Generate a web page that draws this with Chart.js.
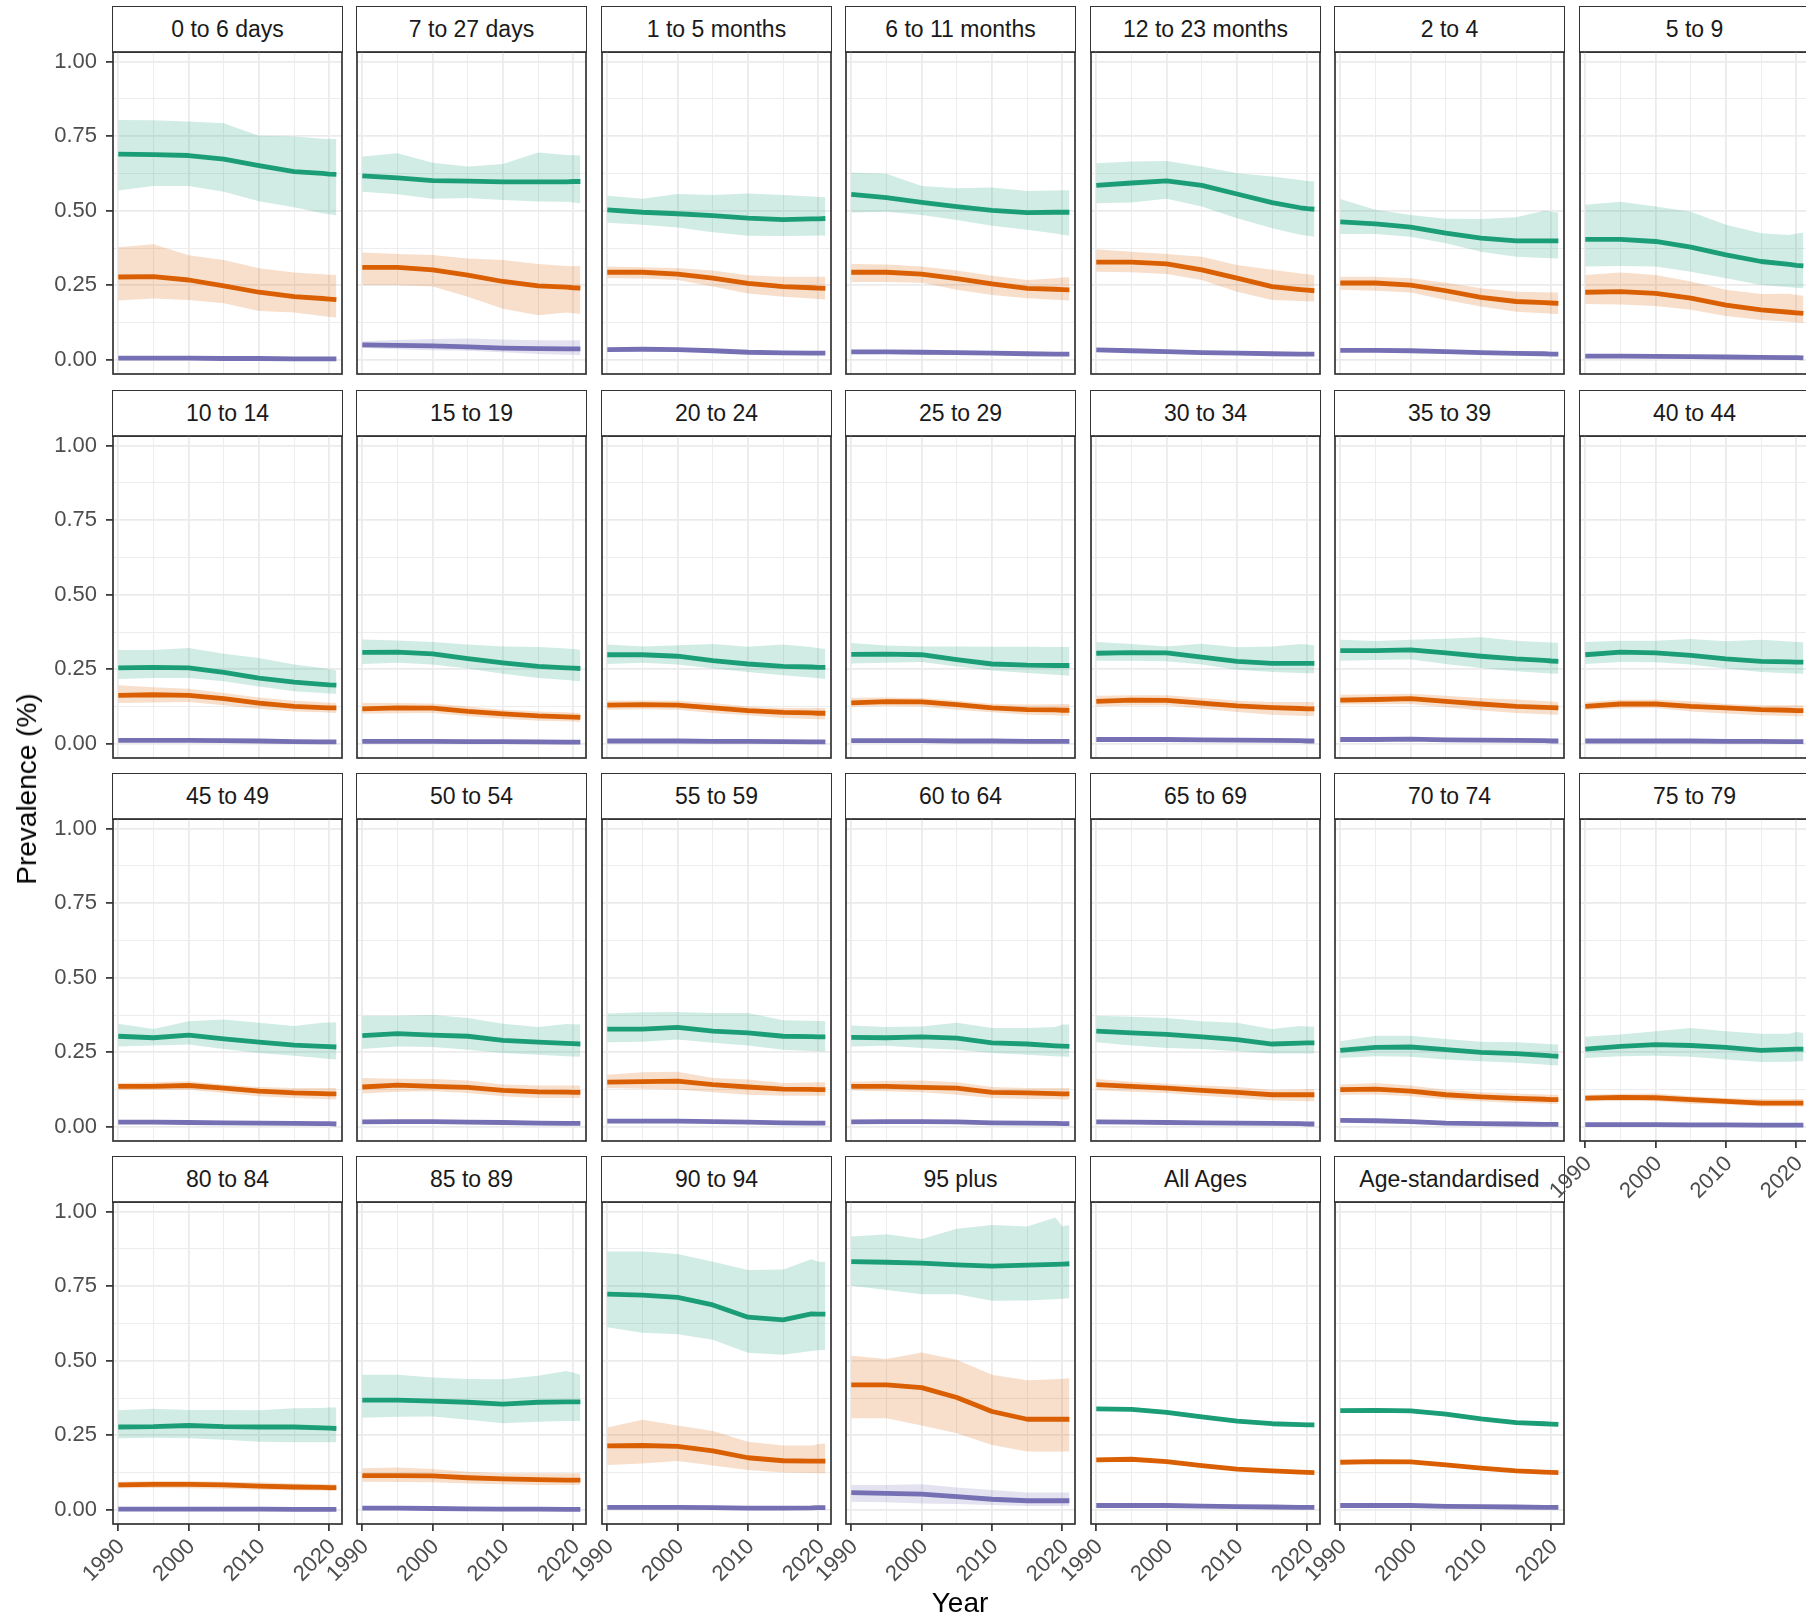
<!DOCTYPE html>
<html><head><meta charset="utf-8">
<script src="https://cdn.jsdelivr.net/npm/chart.js@4.4.0/dist/chart.umd.min.js"></script>
<style>
html,body{margin:0;padding:0;background:#fff;width:1806px;height:1619px;overflow:hidden;}
#wrap{position:relative;width:1806px;height:1619px;overflow:hidden;font-family:"Liberation Sans",Arial,Helvetica,sans-serif;}
.strip{position:absolute;z-index:1;box-sizing:border-box;border:1.7px solid #333;background:#fff;color:#1a1a1a;font-size:23px;display:flex;align-items:center;justify-content:center;white-space:nowrap;}
.cv{position:absolute;z-index:2;}
.title{position:absolute;z-index:3;color:#000;font-size:28px;white-space:nowrap;transform:translate(-50%,-50%);}
</style></head><body><div id="wrap"></div>
<script>
const panels = ["0 to 6 days","7 to 27 days","1 to 5 months","6 to 11 months","12 to 23 months","2 to 4","5 to 9",
"10 to 14","15 to 19","20 to 24","25 to 29","30 to 34","35 to 39","40 to 44",
"45 to 49","50 to 54","55 to 59","60 to 64","65 to 69","70 to 74","75 to 79",
"80 to 84","85 to 89","90 to 94","95 plus","All Ages","Age-standardised"];
const years = [1990,1995,2000,2005,2010,2015,2019,2020,2021];
const xTickLabels = ["1990","2000","2010","2020"];
const yTickLabels = ["0.00","0.25","0.50","0.75","1.00"];

const greenMid = [
[0.690,0.688,0.685,0.673,0.651,0.631,0.625,0.623,0.622],
[0.617,0.610,0.601,0.599,0.597,0.597,0.597,0.598,0.598],
[0.503,0.495,0.490,0.484,0.475,0.470,0.473,0.473,0.474],
[0.555,0.544,0.528,0.514,0.501,0.494,0.495,0.495,0.495],
[0.585,0.593,0.600,0.585,0.556,0.527,0.510,0.507,0.505],
[0.463,0.456,0.445,0.425,0.408,0.399,0.399,0.399,0.399],
[0.404,0.404,0.397,0.378,0.352,0.330,0.320,0.317,0.315],
[0.255,0.257,0.255,0.240,0.221,0.207,0.200,0.198,0.197],
[0.307,0.308,0.302,0.286,0.272,0.260,0.255,0.254,0.253],
[0.299,0.299,0.294,0.279,0.268,0.260,0.258,0.257,0.257],
[0.300,0.301,0.299,0.283,0.268,0.264,0.263,0.263,0.263],
[0.304,0.306,0.305,0.291,0.277,0.270,0.270,0.270,0.270],
[0.313,0.313,0.315,0.305,0.294,0.285,0.280,0.278,0.277],
[0.299,0.308,0.305,0.297,0.285,0.277,0.275,0.274,0.274],
[0.304,0.299,0.308,0.295,0.284,0.274,0.270,0.269,0.268],
[0.306,0.313,0.308,0.304,0.290,0.284,0.280,0.279,0.278],
[0.328,0.328,0.334,0.321,0.315,0.304,0.303,0.302,0.302],
[0.300,0.299,0.302,0.298,0.282,0.278,0.272,0.271,0.270],
[0.321,0.315,0.310,0.302,0.293,0.278,0.281,0.282,0.282],
[0.257,0.267,0.268,0.259,0.250,0.246,0.240,0.238,0.237],
[0.261,0.270,0.276,0.273,0.267,0.257,0.260,0.261,0.261],
[0.278,0.279,0.283,0.279,0.278,0.278,0.275,0.274,0.273],
[0.368,0.368,0.365,0.361,0.355,0.361,0.362,0.362,0.362],
[0.723,0.720,0.712,0.687,0.646,0.637,0.657,0.656,0.656],
[0.832,0.830,0.827,0.821,0.817,0.820,0.823,0.824,0.825],
[0.339,0.337,0.327,0.312,0.298,0.289,0.286,0.285,0.285],
[0.333,0.334,0.332,0.321,0.305,0.293,0.289,0.288,0.287]];

const greenLo = [
[0.568,0.583,0.583,0.564,0.532,0.512,0.492,0.488,0.484],
[0.564,0.555,0.540,0.543,0.536,0.531,0.530,0.528,0.525],
[0.460,0.453,0.444,0.428,0.416,0.415,0.416,0.417,0.417],
[0.494,0.497,0.486,0.469,0.450,0.436,0.424,0.420,0.416],
[0.525,0.528,0.540,0.514,0.475,0.441,0.420,0.416,0.413],
[0.422,0.422,0.413,0.391,0.363,0.346,0.342,0.341,0.340],
[0.313,0.315,0.313,0.296,0.274,0.251,0.244,0.242,0.240],
[0.218,0.221,0.221,0.210,0.193,0.177,0.171,0.169,0.168],
[0.268,0.272,0.266,0.253,0.235,0.221,0.214,0.212,0.210],
[0.268,0.272,0.266,0.253,0.241,0.230,0.223,0.220,0.218],
[0.270,0.272,0.275,0.260,0.246,0.238,0.232,0.230,0.229],
[0.279,0.279,0.277,0.266,0.249,0.241,0.238,0.237,0.237],
[0.279,0.281,0.283,0.268,0.255,0.244,0.238,0.236,0.235],
[0.268,0.275,0.274,0.266,0.253,0.241,0.237,0.236,0.235],
[0.270,0.273,0.276,0.261,0.248,0.239,0.230,0.228,0.226],
[0.261,0.270,0.268,0.259,0.248,0.242,0.237,0.236,0.235],
[0.284,0.286,0.293,0.282,0.273,0.259,0.255,0.254,0.253],
[0.270,0.272,0.265,0.259,0.248,0.242,0.237,0.236,0.235],
[0.284,0.273,0.265,0.261,0.254,0.246,0.246,0.246,0.246],
[0.231,0.237,0.235,0.226,0.220,0.215,0.209,0.207,0.206],
[0.231,0.237,0.239,0.235,0.226,0.218,0.219,0.220,0.220],
[0.240,0.242,0.240,0.235,0.229,0.227,0.227,0.227,0.227],
[0.309,0.312,0.313,0.302,0.291,0.296,0.298,0.298,0.298],
[0.612,0.594,0.589,0.570,0.527,0.520,0.533,0.535,0.536],
[0.751,0.737,0.723,0.723,0.701,0.702,0.706,0.708,0.709],
[0.333,0.331,0.321,0.306,0.292,0.283,0.280,0.279,0.279],
[0.327,0.328,0.326,0.315,0.299,0.287,0.283,0.282,0.281]];

const greenHi = [
[0.804,0.803,0.799,0.793,0.751,0.749,0.741,0.740,0.740],
[0.682,0.693,0.661,0.648,0.657,0.695,0.687,0.686,0.685],
[0.550,0.540,0.556,0.553,0.558,0.553,0.548,0.546,0.545],
[0.628,0.624,0.583,0.575,0.578,0.566,0.568,0.569,0.569],
[0.659,0.665,0.667,0.648,0.626,0.615,0.603,0.600,0.598],
[0.539,0.503,0.486,0.473,0.472,0.478,0.500,0.497,0.494],
[0.520,0.530,0.514,0.497,0.453,0.425,0.419,0.423,0.427],
[0.315,0.315,0.322,0.302,0.288,0.266,0.255,0.250,0.246],
[0.350,0.347,0.342,0.333,0.327,0.325,0.320,0.318,0.315],
[0.333,0.327,0.331,0.335,0.326,0.333,0.325,0.321,0.318],
[0.338,0.330,0.327,0.327,0.326,0.326,0.325,0.325,0.325],
[0.342,0.335,0.327,0.336,0.324,0.327,0.335,0.333,0.331],
[0.349,0.345,0.349,0.353,0.358,0.346,0.341,0.340,0.339],
[0.342,0.346,0.346,0.352,0.344,0.349,0.343,0.342,0.341],
[0.346,0.328,0.354,0.360,0.349,0.338,0.349,0.350,0.351],
[0.373,0.373,0.375,0.365,0.346,0.335,0.345,0.344,0.343],
[0.380,0.384,0.385,0.382,0.382,0.358,0.356,0.355,0.354],
[0.340,0.335,0.337,0.349,0.332,0.332,0.335,0.343,0.343],
[0.373,0.369,0.365,0.354,0.349,0.328,0.338,0.337,0.337],
[0.287,0.306,0.306,0.295,0.286,0.284,0.279,0.277,0.276],
[0.302,0.310,0.321,0.332,0.321,0.312,0.312,0.318,0.315],
[0.334,0.339,0.335,0.335,0.334,0.341,0.342,0.343,0.343],
[0.453,0.453,0.444,0.439,0.438,0.450,0.466,0.460,0.453],
[0.866,0.866,0.858,0.832,0.804,0.806,0.840,0.832,0.832],
[0.916,0.924,0.908,0.942,0.955,0.950,0.980,0.950,0.955],
[0.346,0.344,0.334,0.319,0.305,0.296,0.293,0.292,0.292],
[0.340,0.341,0.339,0.328,0.312,0.300,0.296,0.295,0.294]];

const orangeMid = [
[0.278,0.279,0.268,0.248,0.227,0.212,0.206,0.204,0.202],
[0.310,0.310,0.302,0.284,0.263,0.248,0.244,0.242,0.241],
[0.294,0.294,0.288,0.274,0.257,0.246,0.242,0.241,0.240],
[0.294,0.294,0.288,0.273,0.255,0.240,0.237,0.236,0.235],
[0.328,0.328,0.322,0.302,0.274,0.246,0.236,0.234,0.232],
[0.258,0.258,0.251,0.232,0.210,0.196,0.192,0.191,0.190],
[0.227,0.229,0.223,0.207,0.184,0.168,0.160,0.158,0.156],
[0.163,0.165,0.163,0.152,0.137,0.126,0.122,0.121,0.121],
[0.118,0.121,0.120,0.109,0.101,0.094,0.091,0.090,0.089],
[0.130,0.132,0.130,0.121,0.112,0.106,0.104,0.103,0.103],
[0.138,0.142,0.141,0.132,0.121,0.115,0.114,0.113,0.113],
[0.143,0.147,0.146,0.137,0.128,0.122,0.119,0.118,0.118],
[0.147,0.149,0.152,0.143,0.134,0.126,0.123,0.122,0.121],
[0.126,0.134,0.134,0.126,0.121,0.115,0.113,0.112,0.112],
[0.136,0.136,0.139,0.130,0.120,0.114,0.112,0.111,0.111],
[0.134,0.140,0.136,0.133,0.123,0.118,0.117,0.116,0.116],
[0.150,0.152,0.154,0.142,0.134,0.127,0.126,0.125,0.125],
[0.136,0.136,0.133,0.130,0.116,0.114,0.112,0.111,0.111],
[0.142,0.136,0.130,0.123,0.116,0.108,0.108,0.108,0.108],
[0.125,0.127,0.120,0.108,0.101,0.096,0.093,0.092,0.092],
[0.097,0.099,0.098,0.092,0.086,0.080,0.080,0.080,0.080],
[0.084,0.086,0.086,0.084,0.080,0.077,0.076,0.075,0.075],
[0.115,0.115,0.114,0.108,0.104,0.102,0.100,0.100,0.100],
[0.215,0.216,0.213,0.198,0.175,0.165,0.164,0.164,0.164],
[0.419,0.419,0.410,0.377,0.330,0.304,0.304,0.304,0.304],
[0.168,0.170,0.162,0.149,0.137,0.131,0.127,0.126,0.125],
[0.160,0.162,0.161,0.151,0.140,0.131,0.127,0.126,0.125]];

const orangeLo = [
[0.199,0.206,0.201,0.190,0.164,0.159,0.147,0.144,0.142],
[0.250,0.250,0.246,0.212,0.172,0.150,0.159,0.157,0.154],
[0.274,0.273,0.268,0.246,0.223,0.212,0.206,0.204,0.203],
[0.261,0.261,0.259,0.235,0.218,0.207,0.202,0.200,0.199],
[0.296,0.294,0.288,0.268,0.229,0.201,0.198,0.197,0.196],
[0.235,0.232,0.226,0.201,0.179,0.162,0.157,0.155,0.154],
[0.188,0.186,0.181,0.168,0.147,0.134,0.128,0.126,0.125],
[0.137,0.139,0.141,0.130,0.118,0.109,0.106,0.105,0.104],
[0.101,0.103,0.104,0.093,0.085,0.078,0.076,0.075,0.074],
[0.115,0.116,0.115,0.104,0.096,0.087,0.084,0.083,0.082],
[0.125,0.127,0.126,0.115,0.106,0.098,0.096,0.095,0.095],
[0.126,0.129,0.130,0.118,0.107,0.098,0.095,0.094,0.093],
[0.132,0.133,0.134,0.123,0.112,0.104,0.100,0.099,0.098],
[0.115,0.119,0.121,0.109,0.102,0.096,0.094,0.093,0.093],
[0.123,0.124,0.125,0.114,0.103,0.097,0.094,0.093,0.092],
[0.112,0.118,0.120,0.114,0.103,0.097,0.097,0.097,0.097],
[0.131,0.128,0.125,0.116,0.108,0.105,0.105,0.105,0.105],
[0.122,0.120,0.116,0.108,0.097,0.094,0.093,0.092,0.092],
[0.123,0.118,0.114,0.105,0.097,0.089,0.087,0.086,0.086],
[0.108,0.109,0.103,0.092,0.086,0.080,0.079,0.078,0.078],
[0.086,0.087,0.086,0.078,0.075,0.069,0.069,0.069,0.069],
[0.073,0.074,0.073,0.071,0.068,0.066,0.065,0.064,0.064],
[0.095,0.094,0.093,0.089,0.086,0.084,0.084,0.084,0.084],
[0.151,0.156,0.164,0.149,0.134,0.126,0.124,0.123,0.123],
[0.307,0.307,0.283,0.257,0.218,0.196,0.195,0.196,0.196],
[0.164,0.166,0.158,0.145,0.133,0.127,0.123,0.122,0.121],
[0.156,0.158,0.157,0.147,0.136,0.127,0.123,0.122,0.121]];

const orangeHi = [
[0.378,0.388,0.351,0.335,0.307,0.293,0.287,0.286,0.285],
[0.360,0.355,0.352,0.340,0.335,0.322,0.315,0.314,0.315],
[0.313,0.311,0.308,0.300,0.284,0.279,0.279,0.279,0.279],
[0.322,0.320,0.313,0.300,0.282,0.268,0.274,0.276,0.277],
[0.371,0.363,0.355,0.346,0.318,0.302,0.290,0.287,0.284],
[0.279,0.279,0.274,0.259,0.240,0.229,0.227,0.226,0.226],
[0.285,0.293,0.285,0.263,0.235,0.221,0.222,0.218,0.215],
[0.197,0.190,0.185,0.171,0.156,0.145,0.140,0.138,0.137],
[0.137,0.137,0.136,0.126,0.115,0.109,0.106,0.105,0.104],
[0.145,0.146,0.145,0.137,0.126,0.121,0.121,0.121,0.121],
[0.155,0.156,0.154,0.145,0.135,0.132,0.133,0.134,0.134],
[0.162,0.163,0.163,0.154,0.145,0.141,0.141,0.141,0.141],
[0.165,0.167,0.168,0.162,0.154,0.149,0.144,0.142,0.141],
[0.141,0.148,0.149,0.143,0.134,0.130,0.130,0.130,0.130],
[0.147,0.150,0.153,0.142,0.134,0.131,0.131,0.131,0.131],
[0.164,0.162,0.161,0.156,0.142,0.139,0.139,0.139,0.139],
[0.175,0.183,0.185,0.164,0.159,0.147,0.149,0.150,0.150],
[0.152,0.154,0.156,0.150,0.134,0.131,0.131,0.131,0.131],
[0.161,0.152,0.145,0.139,0.134,0.125,0.126,0.127,0.127],
[0.142,0.147,0.139,0.125,0.116,0.112,0.109,0.108,0.108],
[0.108,0.111,0.112,0.103,0.097,0.094,0.094,0.094,0.094],
[0.095,0.097,0.097,0.095,0.093,0.089,0.087,0.086,0.086],
[0.140,0.142,0.137,0.128,0.123,0.123,0.123,0.123,0.123],
[0.276,0.302,0.283,0.265,0.229,0.216,0.216,0.220,0.223],
[0.517,0.506,0.528,0.503,0.453,0.435,0.438,0.440,0.441],
[0.172,0.174,0.166,0.153,0.141,0.135,0.131,0.130,0.129],
[0.164,0.166,0.165,0.155,0.144,0.135,0.131,0.130,0.129]];

const purpleMid = [
[0.006,0.006,0.006,0.005,0.005,0.004,0.004,0.004,0.004],
[0.051,0.049,0.047,0.044,0.040,0.038,0.037,0.037,0.037],
[0.035,0.036,0.035,0.031,0.026,0.024,0.023,0.023,0.023],
[0.027,0.027,0.026,0.025,0.023,0.021,0.020,0.020,0.020],
[0.034,0.031,0.028,0.025,0.023,0.021,0.020,0.020,0.020],
[0.032,0.032,0.031,0.028,0.025,0.022,0.021,0.020,0.020],
[0.013,0.013,0.012,0.011,0.010,0.009,0.008,0.008,0.007],
[0.012,0.012,0.012,0.011,0.010,0.008,0.007,0.007,0.007],
[0.009,0.009,0.009,0.008,0.008,0.007,0.006,0.006,0.006],
[0.010,0.010,0.010,0.009,0.009,0.008,0.007,0.007,0.007],
[0.011,0.011,0.011,0.010,0.010,0.009,0.009,0.009,0.009],
[0.015,0.015,0.015,0.014,0.013,0.012,0.011,0.010,0.010],
[0.015,0.015,0.016,0.014,0.013,0.012,0.011,0.010,0.010],
[0.010,0.010,0.010,0.010,0.009,0.009,0.008,0.008,0.008],
[0.016,0.016,0.015,0.014,0.013,0.012,0.011,0.011,0.010],
[0.017,0.018,0.018,0.016,0.015,0.013,0.012,0.012,0.012],
[0.020,0.020,0.020,0.018,0.016,0.014,0.013,0.013,0.013],
[0.017,0.018,0.018,0.017,0.014,0.013,0.012,0.011,0.011],
[0.017,0.016,0.015,0.014,0.013,0.012,0.011,0.010,0.010],
[0.022,0.021,0.018,0.013,0.011,0.010,0.009,0.009,0.009],
[0.008,0.008,0.008,0.007,0.007,0.006,0.006,0.006,0.006],
[0.003,0.003,0.003,0.003,0.003,0.002,0.002,0.002,0.002],
[0.006,0.006,0.005,0.004,0.003,0.003,0.002,0.002,0.002],
[0.009,0.009,0.009,0.008,0.006,0.006,0.007,0.008,0.008],
[0.058,0.056,0.053,0.045,0.036,0.031,0.031,0.031,0.031],
[0.015,0.015,0.015,0.013,0.011,0.010,0.009,0.009,0.009],
[0.015,0.015,0.015,0.012,0.011,0.010,0.009,0.009,0.009]];

const purpleLo = [
[0.003,0.003,0.003,0.002,0.002,0.002,0.002,0.002,0.002],
[0.040,0.036,0.033,0.031,0.026,0.020,0.018,0.018,0.017],
[0.031,0.032,0.031,0.027,0.022,0.020,0.019,0.019,0.019],
[0.024,0.024,0.023,0.022,0.020,0.018,0.017,0.017,0.017],
[0.031,0.028,0.025,0.022,0.020,0.018,0.017,0.017,0.017],
[0.029,0.029,0.028,0.025,0.022,0.019,0.018,0.017,0.017],
[0.010,0.010,0.009,0.008,0.007,0.006,0.005,0.005,0.004],
[0.009,0.009,0.009,0.008,0.007,0.005,0.004,0.004,0.004],
[0.006,0.006,0.006,0.005,0.005,0.004,0.003,0.003,0.003],
[0.007,0.007,0.007,0.006,0.006,0.005,0.004,0.004,0.004],
[0.008,0.008,0.008,0.007,0.007,0.006,0.006,0.006,0.006],
[0.012,0.012,0.012,0.011,0.010,0.009,0.008,0.007,0.007],
[0.012,0.012,0.013,0.011,0.010,0.009,0.008,0.007,0.007],
[0.007,0.007,0.007,0.007,0.006,0.006,0.005,0.005,0.005],
[0.012,0.012,0.011,0.010,0.009,0.008,0.007,0.007,0.006],
[0.013,0.014,0.014,0.012,0.011,0.009,0.008,0.008,0.008],
[0.016,0.016,0.016,0.014,0.012,0.010,0.009,0.009,0.009],
[0.012,0.013,0.013,0.012,0.010,0.009,0.008,0.007,0.007],
[0.014,0.013,0.012,0.011,0.010,0.009,0.008,0.007,0.007],
[0.018,0.017,0.014,0.010,0.008,0.007,0.006,0.006,0.006],
[0.005,0.005,0.005,0.004,0.004,0.003,0.003,0.003,0.003],
[0.001,0.001,0.001,0.001,0.001,0.001,0.001,0.001,0.001],
[0.003,0.003,0.002,0.002,0.001,0.001,0.001,0.001,0.001],
[0.005,0.005,0.005,0.004,0.003,0.003,0.004,0.004,0.004],
[0.028,0.026,0.022,0.020,0.017,0.013,0.013,0.013,0.013],
[0.013,0.013,0.013,0.011,0.009,0.008,0.007,0.007,0.007],
[0.013,0.013,0.013,0.010,0.009,0.008,0.007,0.007,0.007]];

const purpleHi = [
[0.009,0.009,0.009,0.008,0.008,0.007,0.007,0.007,0.007],
[0.063,0.067,0.070,0.072,0.069,0.066,0.066,0.066,0.066],
[0.039,0.040,0.039,0.035,0.030,0.028,0.027,0.027,0.027],
[0.030,0.030,0.029,0.028,0.026,0.024,0.023,0.023,0.023],
[0.037,0.034,0.031,0.028,0.026,0.024,0.023,0.023,0.023],
[0.035,0.035,0.034,0.031,0.028,0.025,0.024,0.023,0.023],
[0.016,0.016,0.015,0.014,0.013,0.012,0.011,0.011,0.010],
[0.015,0.015,0.015,0.014,0.013,0.011,0.010,0.010,0.010],
[0.012,0.012,0.012,0.011,0.011,0.010,0.009,0.009,0.009],
[0.013,0.013,0.013,0.012,0.012,0.011,0.010,0.010,0.010],
[0.014,0.014,0.014,0.013,0.013,0.012,0.012,0.012,0.012],
[0.018,0.018,0.018,0.017,0.016,0.015,0.014,0.013,0.013],
[0.018,0.018,0.019,0.017,0.016,0.015,0.014,0.013,0.013],
[0.013,0.013,0.013,0.013,0.012,0.012,0.011,0.011,0.011],
[0.020,0.020,0.019,0.018,0.017,0.016,0.015,0.015,0.014],
[0.021,0.022,0.022,0.020,0.019,0.017,0.016,0.016,0.016],
[0.024,0.024,0.024,0.022,0.020,0.018,0.017,0.017,0.017],
[0.022,0.023,0.024,0.022,0.018,0.017,0.016,0.015,0.015],
[0.020,0.019,0.018,0.017,0.016,0.015,0.014,0.013,0.013],
[0.026,0.025,0.022,0.016,0.014,0.013,0.012,0.012,0.012],
[0.011,0.011,0.011,0.010,0.010,0.009,0.009,0.009,0.009],
[0.005,0.005,0.005,0.005,0.005,0.004,0.004,0.004,0.004],
[0.009,0.009,0.008,0.007,0.006,0.005,0.005,0.005,0.005],
[0.014,0.015,0.013,0.012,0.010,0.010,0.011,0.012,0.012],
[0.084,0.084,0.086,0.075,0.067,0.059,0.059,0.059,0.059],
[0.017,0.017,0.017,0.015,0.013,0.012,0.011,0.011,0.011],
[0.017,0.017,0.017,0.014,0.013,0.012,0.011,0.011,0.011]];

const FONT = "'Liberation Sans', Arial, Helvetica, sans-serif";
const COLORS = {green:'#1B9E77', orange:'#D95F02', purple:'#7570B3'};
const FILLS = {green:'rgba(27,158,119,0.2)', orange:'rgba(217,95,2,0.2)', purple:'rgba(117,112,179,0.2)'};
const XMIN = 1989.25, XMAX = 2021.8, YMIN = -0.0469, YMAX = 1.0318;
const NCOL = 7, COL0 = 112.9, COLSTEP = 244.45, PW = 229;
const ROW0 = 6.7, ROWSTEP = 383.3, STRIPH = 45.6, PH = 322;

const wrap = document.getElementById('wrap');

const framePlugin = {
  id: 'frame',
  afterDatasetsDraw(chart) {
    const {ctx, chartArea: a} = chart;
    ctx.save();
    ctx.strokeStyle = '#333333';
    ctx.lineWidth = 1.7;
    ctx.strokeRect(a.left, a.top, a.right - a.left, a.bottom - a.top);
    ctx.restore();
  }
};

const isMajorX = v => Math.abs(v % 10) < 1e-6;
const isMajorY = v => Math.abs(v * 4 - Math.round(v * 4)) < 1e-6;
const pts = arr => years.map((x, i) => ({x, y: arr[i]}));
const zeroPad = s => { s.paddingLeft = 0; s.paddingRight = 0; s.paddingTop = 0; s.paddingBottom = 0; };

panels.forEach((name, i) => {
  const c = i % NCOL, r = Math.floor(i / NCOL);
  const isLeft = c === 0;
  const lastRow = Math.floor((panels.length - 1) / NCOL);
  const isBottom = (r === lastRow) || (i + NCOL >= panels.length);
  const plotL = Math.round(COL0 + c * COLSTEP);
  const stripT = ROW0 + r * ROWSTEP;
  const plotT = Math.round(stripT + STRIPH);

  const strip = document.createElement('div');
  strip.className = 'strip';
  strip.style.left = (plotL - 0.85) + 'px';
  strip.style.top = (plotT - STRIPH - 0.85) + 'px';
  strip.style.width = (PW + 1.7) + 'px';
  strip.style.height = (STRIPH + 1.7) + 'px';
  strip.textContent = name;
  wrap.appendChild(strip);

  const yW = isLeft ? 110 : (isBottom ? 45 : 0), xH = isBottom ? 62 : 0, pad = 3;
  const cw = PW + pad * 2 + yW, ch = PH + pad * 2 + xH;
  const canvas = document.createElement('canvas');
  canvas.className = 'cv';
  canvas.width = cw; canvas.height = ch;
  canvas.style.width = cw + 'px'; canvas.style.height = ch + 'px';
  canvas.style.left = (plotL - pad - yW) + 'px';
  canvas.style.top = (plotT - pad) + 'px';
  wrap.appendChild(canvas);

  const band = (arr, key, fill) => ({data: pts(arr), borderWidth: 0, borderColor: 'rgba(0,0,0,0)',
    backgroundColor: FILLS[key], fill: fill, pointRadius: 0});
  const line = (arr, key) => ({data: pts(arr), borderWidth: 4.8, borderColor: COLORS[key],
    backgroundColor: COLORS[key], fill: false, pointRadius: 0, borderCapStyle: 'butt', borderJoinStyle: 'round'});

  new Chart(canvas, {
    type: 'line',
    data: {datasets: [
      line(greenMid[i], 'green'), line(orangeMid[i], 'orange'), line(purpleMid[i], 'purple'),
      band(greenHi[i], 'green', '+1'), band(greenLo[i], 'green', false),
      band(orangeHi[i], 'orange', '+1'), band(orangeLo[i], 'orange', false),
      band(purpleHi[i], 'purple', '+1'), band(purpleLo[i], 'purple', false)
    ]},
    options: {
      responsive: false, animation: false, devicePixelRatio: 1,
      layout: {padding: {left: pad, right: pad, top: pad, bottom: pad}},
      plugins: {legend: {display: false}, tooltip: {enabled: false}},
      elements: {line: {tension: 0}, point: {radius: 0}},
      scales: {
        x: {
          type: 'linear', min: XMIN, max: XMAX,
          afterFit: s => { s.height = xH; zeroPad(s); },
          border: {display: false},
          grid: {
            color: '#EBEBEB',
            lineWidth: ctx => (ctx.tick && isMajorX(ctx.tick.value)) ? 1.8 : 0.9,
            drawTicks: isBottom, tickLength: 7, tickWidth: 1.7,
            tickColor: ctx => (ctx.tick && isMajorX(ctx.tick.value)) ? '#333333' : 'rgba(0,0,0,0)'
          },
          ticks: {
            display: isBottom, stepSize: 5, includeBounds: false, autoSkip: false,
            minRotation: 45, maxRotation: 45, padding: 3, labelOffset: 3,
            color: '#4D4D4D', font: {size: 22, family: FONT},
            callback: v => isMajorX(v) ? xTickLabels[Math.round((v - 1990) / 10)] : ''
          }
        },
        y: {
          type: 'linear', min: YMIN, max: YMAX,
          afterFit: s => { s.width = yW; zeroPad(s); },
          border: {display: false},
          grid: {
            color: '#EBEBEB',
            lineWidth: ctx => (ctx.tick && isMajorY(ctx.tick.value)) ? 1.8 : 0.9,
            drawTicks: isLeft, tickLength: 7, tickWidth: 1.7,
            tickColor: ctx => (ctx.tick && isMajorY(ctx.tick.value)) ? '#333333' : 'rgba(0,0,0,0)'
          },
          ticks: {
            display: isLeft, stepSize: 0.125, includeBounds: false, autoSkip: false, padding: 9,
            color: '#4D4D4D', font: {size: 22, family: FONT},
            callback: v => isMajorY(v) ? yTickLabels[Math.round(v * 4)] : ''
          }
        }
      }
    },
    plugins: [framePlugin]
  });
});

const yt = document.createElement('div');
yt.className = 'title';
yt.style.left = '27px'; yt.style.top = '789px';
yt.style.transform = 'translate(-50%,-50%) rotate(-90deg)';
yt.textContent = 'Prevalence (%)';
wrap.appendChild(yt);

const xt = document.createElement('div');
xt.className = 'title';
xt.style.left = '960px'; xt.style.top = '1603px';
xt.textContent = 'Year';
wrap.appendChild(xt);
</script>
</body></html>
